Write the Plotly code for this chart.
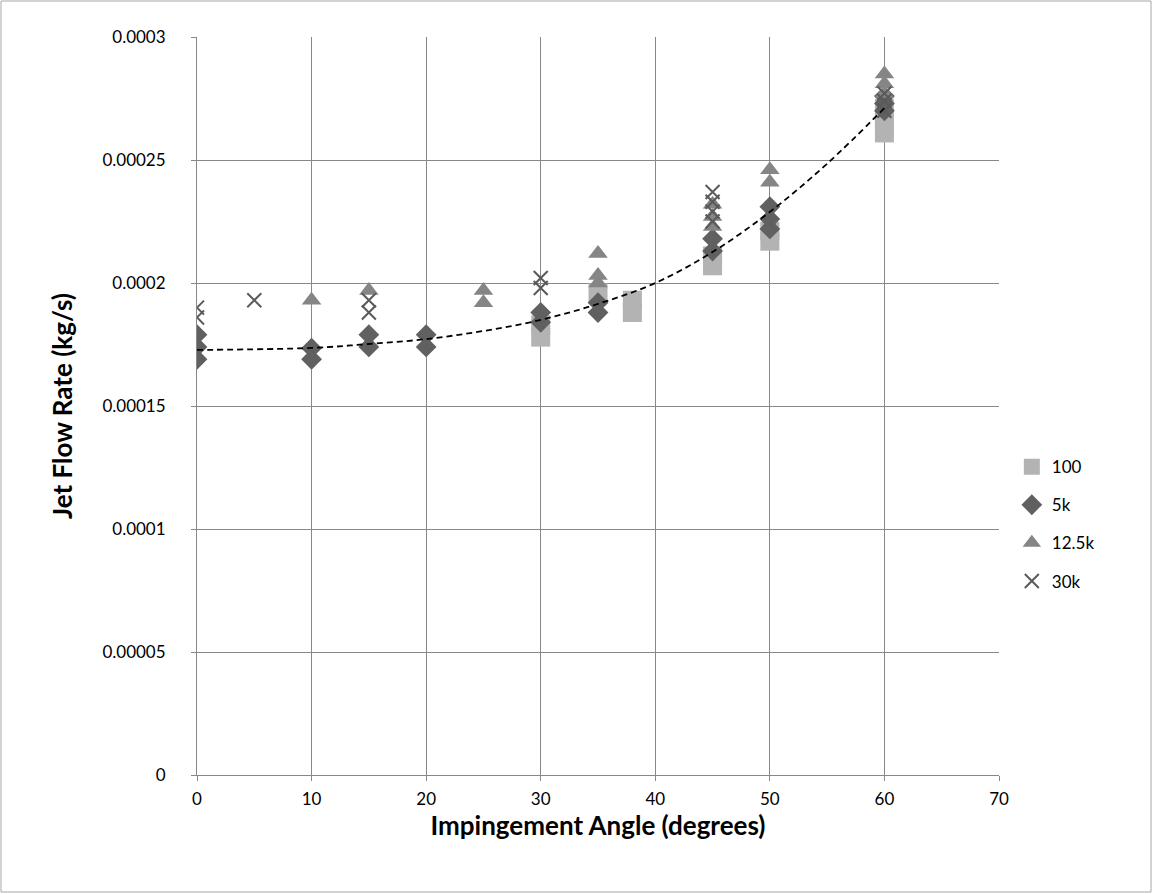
import plotly.graph_objects as go

# ---------------- data ----------------
x_100 = [30, 30, 35, 38, 38, 45, 45, 50, 50, 60, 60, 60]
y_100 = [0.000178, 0.000183, 0.000196, 0.000188, 0.000193, 0.000207, 0.000211,
         0.000217, 0.000221, 0.000261, 0.000266, 0.000271]

x_5k = [0, 0, 0, 10, 10, 15, 15, 20, 20, 30, 30, 35, 35, 45, 45, 50, 50, 50, 60, 60, 60]
y_5k = [0.000169, 0.000174, 0.000179, 0.000169, 0.0001735, 0.000174, 0.000179,
        0.000174, 0.000179, 0.000184, 0.000188, 0.000188, 0.000192, 0.000213,
        0.000218, 0.000222, 0.000226, 0.000231, 0.000270, 0.000273, 0.000276]

x_125k = [10, 15, 25, 25, 35, 35, 35, 45, 45, 45, 50, 50, 60, 60, 60]
y_125k = [0.000193, 0.000197, 0.000192, 0.000197, 0.000200, 0.000203, 0.000212,
          0.000223, 0.000227, 0.000232, 0.000241, 0.000246, 0.000277, 0.000281, 0.000285]

x_30k = [0, 0, 5, 15, 15, 30, 30, 45, 45, 45, 45, 60, 60, 60]
y_30k = [0.000186, 0.000190, 0.000193, 0.000188, 0.000193, 0.000198, 0.000202,
         0.000225, 0.000229, 0.000233, 0.000237, 0.000270, 0.000274, 0.000277]

# trendline
trend_x = [0, 10, 15, 20, 25, 30, 35, 40, 45, 50, 55, 60]
trend_y = [0.0001728, 0.0001736, 0.0001752, 0.0001772, 0.0001805, 0.0001850,
           0.0001915, 0.0002000, 0.0002126, 0.0002289, 0.0002485, 0.0002711]

x_ticks = [0, 10, 20, 30, 40, 50, 60, 70]
y_ticks = [0, 0.00005, 0.0001, 0.00015, 0.0002, 0.00025, 0.0003]
y_tick_text = ["0", "0.00005", "0.0001", "0.00015", "0.0002", "0.00025", "0.0003"]

series_names = ["100", "5k", "12.5k", "30k"]

# ---------------- figure ----------------
FONT = "Lato, 'Open Sans', sans-serif"
W, H = 1153, 894
L, R, T, B = 197, 154, 37, 119
PW, PH = W - L - R, H - T - B

fig = go.Figure()

fig.add_trace(go.Scatter(
    x=x_100, y=y_100, mode="markers", name=series_names[0], legendgroup="a",
    marker=dict(symbol="square", size=19, color="#b3b3b3", line=dict(width=0))))
fig.add_trace(go.Scatter(
    x=x_5k, y=y_5k, mode="markers", name=series_names[1], legendgroup="b",
    marker=dict(symbol="diamond", size=16, color="#606060", line=dict(width=0))))
fig.add_trace(go.Scatter(
    x=x_125k, y=y_125k, mode="markers", name=series_names[2], legendgroup="c",
    marker=dict(symbol="triangle-up", size=17, color="#858585", line=dict(width=0))))
fig.add_trace(go.Scatter(
    x=x_30k, y=y_30k, mode="markers", name=series_names[3], legendgroup="d",
    marker=dict(symbol="x-thin", size=14, color="#5a5a5a",
                line=dict(width=2, color="#5a5a5a"))))
fig.add_trace(go.Scatter(
    x=trend_x, y=trend_y, mode="lines", showlegend=False, hoverinfo="skip",
    line=dict(color="black", width=1.8, dash="6px,4px", shape="spline", smoothing=1.0)))

axis_common = dict(
    showgrid=True, gridcolor="#888888", gridwidth=1,
    showline=True, linecolor="#888888", linewidth=1,
    ticks="outside", ticklen=5, tickcolor="#888888",
    zeroline=False, tickfont=dict(family=FONT, size=17, color="black"),
)

fig.update_xaxes(
    range=[0, 70], tickvals=x_ticks, ticktext=[str(v) for v in x_ticks],
    ticklabelstandoff=4,
    title=dict(text="<b>Impingement Angle (degrees)</b>",
               font=dict(family=FONT, size=26, color="black"), standoff=2),
    **axis_common)
fig.update_yaxes(
    range=[0, 0.0003], tickvals=y_ticks, ticktext=y_tick_text,
    ticklabelstandoff=22,
    title=dict(text="<b>Jet Flow Rate (kg/s)</b>",
               font=dict(family=FONT, size=26, color="black"), standoff=22),
    **axis_common)

fig.update_layout(
    width=W, height=H,
    margin=dict(l=L, r=R, t=T, b=B, autoexpand=False),
    paper_bgcolor="white", plot_bgcolor="white",
    font=dict(family=FONT, size=17, color="black"),
    legend=dict(x=1.016, y=0.34, xanchor="left", yanchor="middle",
                traceorder="grouped", tracegroupgap=13,
                font=dict(family=FONT, size=17, color="black"),
                bgcolor="rgba(0,0,0,0)", itemwidth=30),
    shapes=[dict(type="rect", xref="paper", yref="paper",
                 x0=-(L - 1) / PW, x1=1 + (R - 2) / PW,
                 y0=-(B - 2) / PH, y1=1 + (T - 1) / PH,
                 line=dict(color="#a6a6a6", width=1), fillcolor="rgba(0,0,0,0)")],
)

fig.write_html("out.html", config={"displayModeBar": False},
               post_script="document.body.style.margin='0px';")
